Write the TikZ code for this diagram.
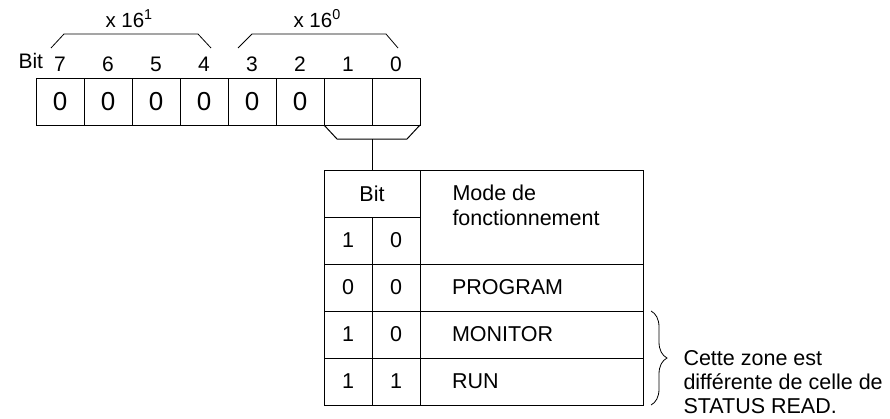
\documentclass[tikz,border=0pt]{standalone}
\usepackage{fontspec}
\setmainfont{Liberation Sans}
\usetikzlibrary{positioning,decorations.pathreplacing}

\begin{document}
\begin{tikzpicture}[
x=1pt,y=-1pt,
line width=1pt,
node distance=0pt,
cell/.style={draw,minimum width=48pt,minimum height=47pt,inner sep=0pt,outer sep=0pt,font=\fontsize{26}{30}\selectfont},
bitno/.style={inner sep=0pt,font=\fontsize{21}{25}\selectfont},
tcell/.style={draw,minimum width=48pt,minimum height=47pt,inner sep=0pt,outer sep=0pt,font=\fontsize{21.5}{25}\selectfont},
tmode/.style={tcell,minimum width=223pt,inner xsep=32pt,text width=159pt,align=left},
mult/.style={inner sep=0pt,anchor=base west,font=\fontsize{20.5}{24}\selectfont},
note/.style={inner sep=0pt,align=left,font=\fontsize{21.5}{24}\selectfont}
]
\useasboundingbox (0,0) rectangle (890,418);
% register
\node[cell,anchor=north west] (b7) at (36,78) {0};
\node[cell,right=of b7] (b6) {0};
\node[cell,right=of b6] (b5) {0};
\node[cell,right=of b5] (b4) {0};
\node[cell,right=of b4] (b3) {0};
\node[cell,right=of b3] (b2) {0};
\node[cell,right=of b2] (b1) {};
\node[cell,right=of b1] (b0) {};
\foreach \n in {7,...,0}
  \node[bitno,above=6pt of b\n] (n\n) {\n};
\node[bitno,anchor=base west] (bitlbl) at (18,68) {Bit};
% groups
\draw[line width=0.8pt] (51,48) -- (64,34) -- (198,34) -- (211,48);
\draw[line width=0.8pt] (238,48) -- (252,34) -- (386,34) -- (398,48);
\node[mult] (hi) at (105,27) {x 16\textsuperscript{1}};
\node[mult] (lo) at (293,27) {x 16\textsuperscript{0}};
% bits 1 and 0
\coordinate (fun) at ([yshift=-14pt]b1.south east);
\draw (b1.south west) -- ++(13,14) -- ++(70,0) -- (b0.south east);
% table
\node[tcell,minimum width=96pt,anchor=north west] (hbit) at (324,170) {Bit};
\draw (fun) -- (hbit.north);
\node[tcell,anchor=north west] (h1) at (hbit.south west) {1};
\node[tcell,right=of h1] (h0) {0};
\node[tcell,minimum width=223pt,minimum height=94pt,anchor=north west] (hmode) at (hbit.north east) {};
\node[note,font=\fontsize{21.5}{25}\selectfont,anchor=north west] (hmtxt) at ([xshift=32pt,yshift=-14.5pt]hmode.north west) {Mode de\\fonctionnement};
\node[tcell,anchor=north west] (r0a) at (h1.south west) {0};
\node[tcell,right=of r0a] (r0b) {0};
\node[tmode,right=of r0b] (r0m) {PROGRAM};
\node[tcell,below=of r0a] (r1a) {1};
\node[tcell,right=of r1a] (r1b) {0};
\node[tmode,right=of r1b] (r1m) {MONITOR};
\node[tcell,below=of r1a] (r2a) {1};
\node[tcell,right=of r2a] (r2b) {1};
\node[tmode,right=of r2b] (r2m) {RUN};
% note
\coordinate (bt) at ([xshift=8pt]r1m.north east);
\coordinate (bb) at ([xshift=8pt]r2m.south east);
\draw[line width=0.8pt,decorate,decoration={brace,amplitude=16pt}] (bt) -- (bb);
\node[note,anchor=base west] (zone) at (683,413) {Cette zone est\\diff\'erente de celle de\\STATUS READ.};
\end{tikzpicture}
\end{document}
